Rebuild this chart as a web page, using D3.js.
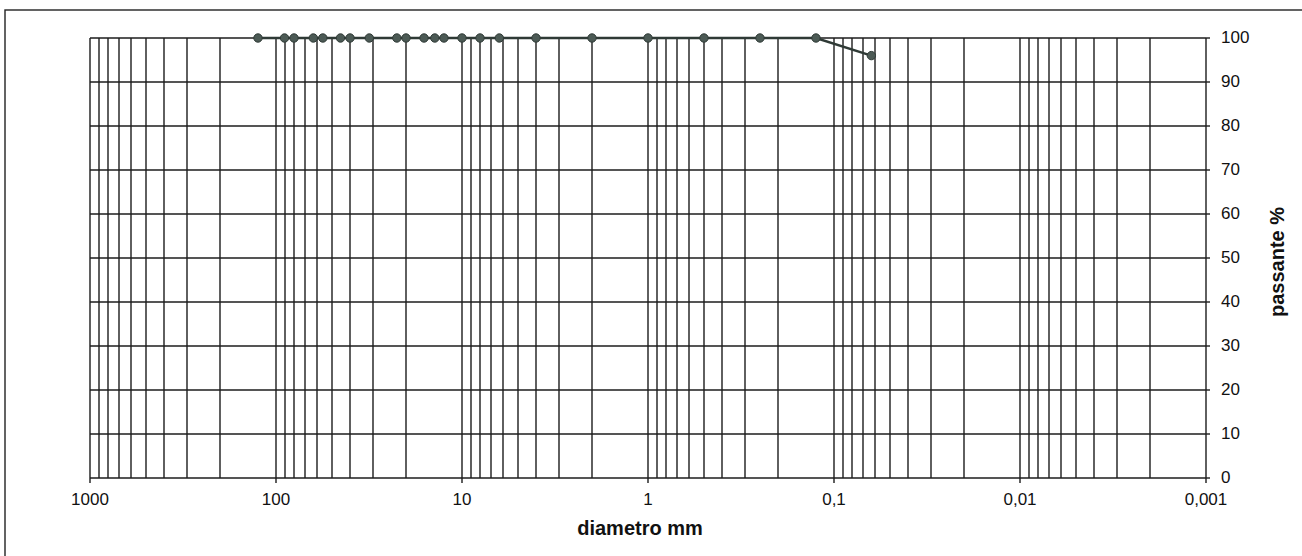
<!DOCTYPE html>
<meta charset="utf-8">
<style>
    body { margin: 0; background: #fff; }
    text { font-family: "Liberation Sans", Arial, sans-serif; fill: #111; }
    .grid line { stroke: #1c1c1c; stroke-width: 1.4px; }
    .curve { fill: none; stroke: #2f3a36; stroke-width: 2.4px; }
</style>
<body>
<script src="https://d3js.org/d3.v7.min.js"></script>
<script>
    // sieve sizes (mm) and percent passing
    var diametri = [125, 90, 80, 63, 56, 45, 40, 31.5, 22.4, 20, 16, 14, 12.5, 10, 8, 6.3, 4, 2, 1, 0.5, 0.25, 0.125, 0.063];
    var passante = [100, 100, 100, 100, 100, 100, 100, 100, 100, 100, 100, 100, 100, 100, 100, 100, 100, 100, 100, 100, 100, 100, 96];
    var xTicks = [1000, 100, 10, 1, 0.1, 0.01, 0.001];
    var yTicks = [0, 10, 20, 30, 40, 50, 60, 70, 80, 90, 100];

    var W = 1302, H = 556;
    var margin = { top: 38, right: 96, bottom: 78, left: 90 },
        width = W - margin.left - margin.right,
        height = H - margin.top - margin.bottom;

    var svg = d3.select("body").append("svg")
        .attr("width", W)
        .attr("height", H);

    // outer frame
    svg.append("rect")
        .attr("x", 5).attr("y", 10)
        .attr("width", W).attr("height", H)
        .attr("fill", "none").attr("stroke", "#222").attr("stroke-width", 1.4);

    var g = svg.append("g")
        .attr("transform", "translate(" + margin.left + "," + margin.top + ")");

    var x = d3.scaleLog().domain([1000, 0.001]).range([0, width]);
    var y = d3.scaleLinear().domain([0, 100]).range([height, 0]);

    // all the log grid lines: 1..9 for each decade
    var minor = [];
    xTicks.slice(1).forEach(function (d) {
        for (var k = 1; k <= 9; k++) minor.push(d * k);
    });
    minor.push(1000);

    var grid = g.append("g").attr("class", "grid");
    grid.selectAll(".v").data(minor).enter().append("line")
        .attr("x1", function (d) { return Math.round(x(d)); })
        .attr("x2", function (d) { return Math.round(x(d)); })
        .attr("y1", 0).attr("y2", height);
    grid.selectAll(".h").data(yTicks).enter().append("line")
        .attr("x1", 0).attr("x2", width)
        .attr("y1", function (d) { return Math.round(y(d)); })
        .attr("y2", function (d) { return Math.round(y(d)); });

    function fmt(d) { return String(d).replace(".", ","); }

    // x axis
    var xAxis = g.append("g")
        .attr("transform", "translate(0," + height + ")")
        .call(d3.axisBottom(x).tickValues(xTicks).tickFormat(fmt).tickSize(5).tickPadding(10).offset(0));
    xAxis.select(".domain").remove();
    xAxis.selectAll("line").attr("stroke", "#1c1c1c").attr("stroke-width", 1.4);
    xAxis.selectAll("text").style("font-size", "17px").attr("fill", "#111");

    // y axis on the right
    var yAxis = g.append("g")
        .attr("transform", "translate(" + width + ",0)")
        .call(d3.axisRight(y).tickValues(yTicks).tickSize(4).tickPadding(11).offset(0));
    yAxis.select(".domain").remove();
    yAxis.selectAll("line").attr("stroke", "#1c1c1c").attr("stroke-width", 1.4);
    yAxis.selectAll("text").style("font-size", "17px").attr("fill", "#111");

    // axis titles
    svg.append("text")
        .attr("x", 640).attr("y", 535)
        .attr("text-anchor", "middle")
        .style("font-size", "20px").style("font-weight", "bold")
        .text("diametro mm");
    svg.append("text")
        .attr("transform", "translate(1284,262) rotate(-90)")
        .attr("text-anchor", "middle")
        .style("font-size", "20px").style("font-weight", "bold")
        .text("passante %");

    // grading curve
    var pts = diametri.map(function (d, i) { return { d: d, p: passante[i] }; });
    var line = d3.line()
        .x(function (d) { return x(d.d); })
        .y(function (d) { return y(d.p); });
    g.append("path").datum(pts).attr("class", "curve").attr("d", line);
    g.selectAll(".pt").data(pts).enter().append("circle")
        .attr("cx", function (d) { return x(d.d); })
        .attr("cy", function (d) { return y(d.p); })
        .attr("r", 4.2)
        .attr("fill", "#4c5a55")
        .attr("stroke", "#2f3a36")
        .attr("stroke-width", 1);
</script>
</body>
